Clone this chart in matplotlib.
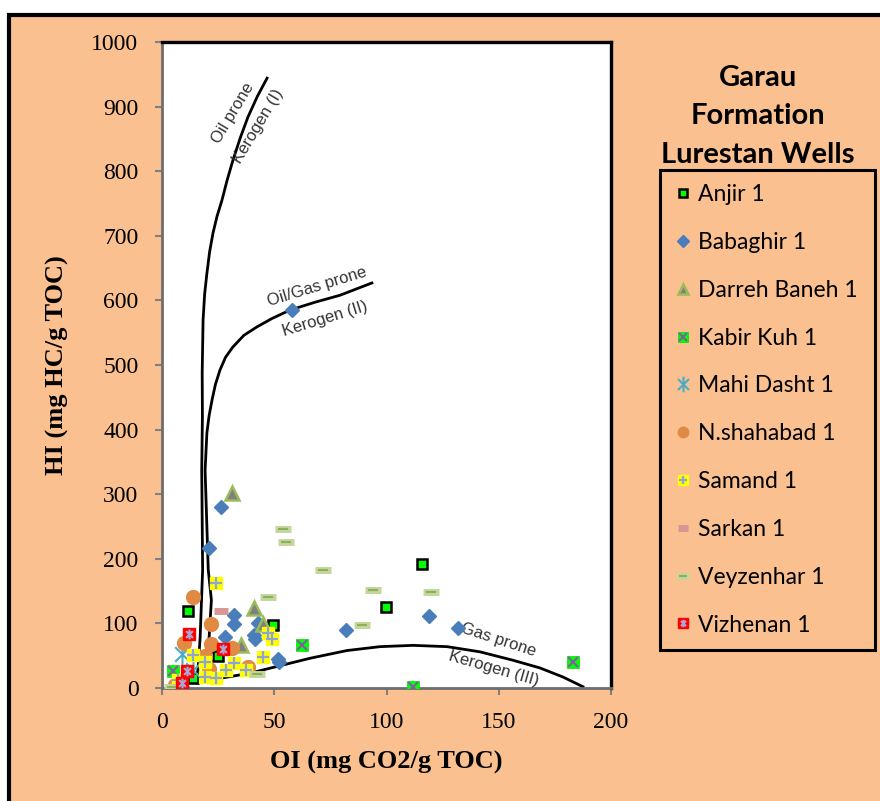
import matplotlib
matplotlib.use("Agg")
import matplotlib.pyplot as plt
from matplotlib.patches import Rectangle
from matplotlib.path import Path

# --- data (OI, HI) ---
anjir_oi = [11.6, 115.8, 99.8, 49.6, 24.9, 13.8]
anjir_hi = [119, 192, 125, 98, 50, 15]

babaghir_oi = [57.9, 26.3, 21.0, 32.1, 32.1, 28.1, 42.8, 40.8, 41.5, 51.5, 52.3, 9.4, 82.0, 119.0, 131.8]
babaghir_hi = [585, 280, 217, 113, 99, 79, 100, 82, 76, 45, 40, 0, 90, 111, 93]

darreh_oi = [31.2, 41.0, 45.0, 35.2]
darreh_hi = [302, 124, 99, 67]

kabir_oi = [5.0, 62.4, 112.0, 183.0]
kabir_hi = [27, 66, 1, 40]

mahi_oi = [8.9, 14.0]
mahi_hi = [52, 28]

nshah_oi = [13.8, 21.8, 9.8, 21.8, 31.2, 19.2, 38.3, 5.8, 21.0]
nshah_hi = [141, 99, 70, 68, 62, 50, 33, 5, 30]

samand_oi = [24.0, 13.8, 19.2, 32.1, 45.0, 47.2, 49.0, 19.2, 24.0, 28.5, 37.4, 7.0]
samand_hi = [163, 51, 40, 39, 48, 85, 76, 17, 15, 28, 28, 12]

sarkan_oi = [26.3]
sarkan_hi = [119]

veyz_oi = [53.9, 55.2, 71.7, 94.0, 119.8, 47.2, 89.0, 42.3, 4.4]
veyz_hi = [246, 226, 183, 152, 149, 141, 98, 22, 2]

vizh_oi = [12.0, 27.2, 11.1, 8.9]
vizh_hi = [84, 60, 27, 8]

# kerogen type boundary curves
type1_oi = [15.0, 16.0, 17.0, 18.1, 17.7, 18.0, 17.9, 18.3, 19.0, 20.0, 21.2, 22.7,
            24.5, 26.7, 29.0, 31.6, 34.8, 38.3, 42.5, 46.8]
type1_hi = [8, 28, 79, 183, 337, 420, 488, 570, 610, 642, 675, 704,
            730, 755, 786, 817, 851, 884, 916, 944]
type2_oi = [16.0, 19.0, 21.0, 22.0, 20.6, 19.2, 20.0, 21.0, 22.3, 23.8, 25.8, 28.3,
            31.6, 36.5, 42.3, 49.0, 57.0, 68.0, 79.3, 93.5]
type2_hi = [8, 28, 79, 136, 183, 337, 395, 422, 446, 470, 492, 512,
            528, 546, 559, 572, 585, 597, 608, 627]
type3_oi = [15.6, 26.0, 39.2, 52.0, 65.9, 82.4, 97.1, 111.8, 127.0, 141.6, 156.3,
            168.4, 178.6, 187.5]
type3_hi = [8, 15, 23, 34, 46, 58, 64, 66, 64, 56, 43, 31, 17, 2]

PEACH = "#FAC090"
SERIF = "Liberation Serif"
SANS = "Lato"

# Excel-like asterisk: vertical bar plus an X
star = Path([(0, -1), (0, 1), (-0.7, -0.7), (0.7, 0.7), (-0.7, 0.7), (0.7, -0.7)],
            [Path.MOVETO, Path.LINETO] * 3)

fig = plt.figure(figsize=(8.8, 8.01), dpi=100, facecolor="white")
fig.patches.append(Rectangle((9 / 880, -0.05), 1.2, 1 - 15 / 801 + 0.05,
                             transform=fig.transFigure, facecolor=PEACH,
                             edgecolor="black", linewidth=3, zorder=-10))

ax = fig.add_axes([162 / 880, 113 / 801, 449 / 880, 646 / 801])
ax.set_facecolor("white")
ax.set_xlim(0, 200)
ax.set_ylim(0, 1000)
ax.set_xticks(range(0, 201, 50))
ax.set_yticks(range(0, 1001, 100))

for side in ("top", "right"):
    ax.spines[side].set_color("black")
    ax.spines[side].set_linewidth(2.4)
for side in ("left", "bottom"):
    ax.spines[side].set_color("#6d6d6d")
    ax.spines[side].set_linewidth(2)
ax.tick_params(direction="out", length=5, width=1.5, color="#808080",
               labelsize=17, pad=12)
for lab in ax.get_xticklabels() + ax.get_yticklabels():
    lab.set_fontfamily(SERIF)

ax.set_xlabel("OI (mg CO2/g TOC)", fontfamily=SERIF, fontweight="bold",
              fontsize=19, labelpad=13)
ax.set_ylabel("HI (mg HC/g TOC)", fontfamily=SERIF, fontweight="bold",
              fontsize=19, labelpad=16)

# boundary curves
for cx, cy in ((type1_oi, type1_hi), (type2_oi, type2_hi), (type3_oi, type3_hi)):
    ax.plot(cx, cy, color="black", lw=2, solid_joinstyle="round", zorder=2)

lbl = dict(fontfamily="Liberation Sans", fontsize=12, color="#333333",
           ha="center", va="center", rotation_mode="anchor")
ax.text(31.6, 890, "Oil prone", rotation=59, **lbl)
ax.text(43.0, 870, "Kerogen (I)", rotation=59, **lbl)
ax.text(69, 621, "Oil/Gas prone", rotation=17, **lbl)
ax.text(72.5, 572, "Kerogen (II)", rotation=17, **lbl)
ax.text(149.7, 74, "Gas prone", rotation=-18, **lbl)
ax.text(147.9, 30, "Kerogen (III)", rotation=-16, **lbl)

kw = dict(ls="none", zorder=3)
h1 = ax.plot(anjir_oi, anjir_hi, marker="s", ms=7.5, mfc="#00FF00", mec="black", mew=1.8, **kw)[0]
h2 = ax.plot(babaghir_oi, babaghir_hi, marker="D", ms=7.5, color="#4A7EBB", **kw)[0]
h3 = ax.plot(darreh_oi, darreh_hi, marker="^", ms=10, mfc="#808080", mec="#9BBB59", mew=1.8, **kw)[0]
h4a = ax.plot(kabir_oi, kabir_hi, marker="s", ms=9, mfc="#00FF00", mec="#00E000", mew=0.5, **kw)[0]
h4b = ax.plot(kabir_oi, kabir_hi, marker="x", ms=7.5, color="#7F60A0", mew=1.5, **kw)[0]
h5 = ax.plot(mahi_oi, mahi_hi, marker=star, ms=15, color="#4BACC6", mew=1.5, **kw)[0]
h6 = ax.plot(nshah_oi, nshah_hi, marker="o", ms=10, color="#E08A43", **kw)[0]
h7a = ax.plot(samand_oi, samand_hi, marker="s", ms=9, color="#FFFF00", **kw)[0]
h7b = ax.plot(samand_oi, samand_hi, marker="+", ms=8, color="#8EA4D2", mew=1.6, **kw)[0]
h8 = ax.plot(sarkan_oi, sarkan_hi, marker="_", ms=10, color="#D99694", mew=5, **kw)[0]
h9a = ax.plot(veyz_oi, veyz_hi, marker="_", ms=11, color="#C3D69B", mew=5, **kw)[0]
h9b = ax.plot(veyz_oi, veyz_hi, marker="_", ms=7, color="#8FB05A", mew=1.5, **kw)[0]
h10a = ax.plot(vizh_oi, vizh_hi, marker="s", ms=9, color="#FF0000", **kw)[0]
h10b = ax.plot(vizh_oi, vizh_hi, marker=star, ms=7, color="#A8A8D8", mew=1.5, **kw)[0]

handles = [h1, h2, h3, (h4a, h4b), h5, h6, (h7a, h7b), h8, (h9a, h9b), (h10a, h10b)]
labels = ["Anjir 1", "Babaghir 1", "Darreh Baneh 1", "Kabir Kuh 1", "Mahi Dasht 1",
          "N.shahabad 1", "Samand 1", "Sarkan 1", "Veyzenhar 1", "Vizhenan 1"]

leg = fig.legend(handles, labels, loc="upper left",
                 bbox_to_anchor=(660 / 880, 149 / 801, 215 / 880, 482 / 801),
                 mode="expand", borderaxespad=0, prop={"family": SANS, "size": 16.5},
                 labelspacing=1.17, handlelength=0.8, handletextpad=0.25,
                 borderpad=0.62, markerscale=0.75, frameon=True,
                 fancybox=False, facecolor=PEACH, edgecolor="black",
                 framealpha=1)
leg.get_frame().set_linewidth(2.2)

fig.text(758 / 880, 1 - 116.5 / 801, "Garau\nFormation\nLurestan Wells",
         ha="center", va="center", fontfamily=SANS, fontweight="bold",
         fontsize=21, linespacing=1.58, multialignment="center")

fig.savefig("out.png", dpi=100)
